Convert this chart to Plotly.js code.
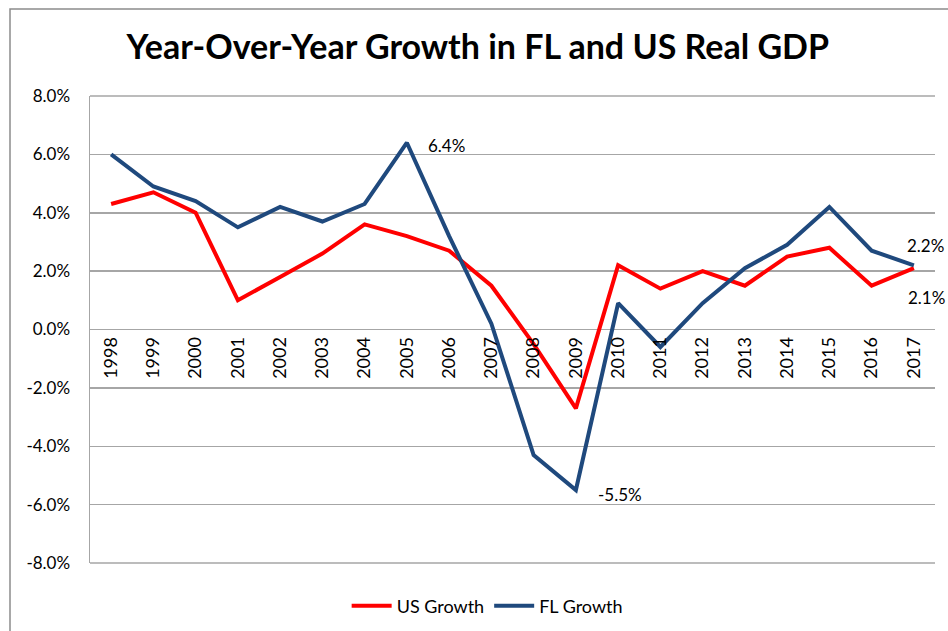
<!DOCTYPE html>
<html>
<head>
<meta charset="utf-8">
<script src="https://cdn.plot.ly/plotly-3.0.1.min.js"></script>
<style>html,body{margin:0;padding:0;background:#fff;}#chart{width:948px;height:631px;}</style>
</head>
<body>
<div id="chart"></div>
<script>
const years = ['1998','1999','2000','2001','2002','2003','2004','2005','2006','2007','2008','2009','2010','2011','2012','2013','2014','2015','2016','2017'];
const usGrowth = [4.3, 4.7, 4.0, 1.0, 1.8, 2.6, 3.6, 3.2, 2.7, 1.5, -0.5, -2.7, 2.2, 1.4, 2.0, 1.5, 2.5, 2.8, 1.5, 2.1];
const flGrowth = [6.0, 4.9, 4.4, 3.5, 4.2, 3.7, 4.3, 6.4, 3.2, 0.2, -4.3, -5.5, 0.9, -0.6, 0.9, 2.1, 2.9, 4.2, 2.7, 2.2];
const yTicks = [-8, -6, -4, -2, 0, 2, 4, 6, 8];

const FONT = 'Lato, "Open Sans", "Liberation Sans", sans-serif';
const fmt = v => v.toFixed(1) + '%';

const traces = [
  {x: years, y: usGrowth, name: 'US Growth', type: 'scatter', mode: 'lines',
   line: {color: '#ff0000', width: 4}},
  {x: years, y: flGrowth, name: 'FL Growth', type: 'scatter', mode: 'lines',
   line: {color: '#1f497d', width: 4}}
];

const i05 = years.indexOf('2005'), i09 = years.indexOf('2009'), i17 = years.indexOf('2017');
const annFont = {family: FONT, size: 17, color: '#000'};
function label(i, v, dx, dy) {
  return {xref: 'x', yref: 'y', x: i, y: v, text: fmt(v), showarrow: false,
          xanchor: 'center', yanchor: 'middle', xshift: dx, yshift: dy, font: annFont};
}
const annotations = [
  label(i05, flGrowth[i05], 40, -3),
  label(i09, flGrowth[i09], 44, -4),
  label(i17, flGrowth[i17], 12, 20),
  label(i17, usGrowth[i17], 13, -29)
];

const layout = {
  width: 948, height: 631,
  margin: {l: 90, r: 13, t: 96, b: 68, pad: 0, autoexpand: false},
  paper_bgcolor: '#fff', plot_bgcolor: '#fff',
  font: {family: FONT, size: 16, color: '#000'},
  title: {text: 'Year-Over-Year Growth in FL and US Real GDP',
          font: {family: FONT, size: 34, color: '#000', weight: 'bold'},
          x: 0.504, xref: 'container', xanchor: 'center',
          y: 0.925, yref: 'container', yanchor: 'middle', automargin: false},
  xaxis: {type: 'category', range: [-0.5, years.length - 0.5],
          anchor: 'free', position: 0.5, tickangle: -90,
          showgrid: false, showline: false, zeroline: false, ticks: '',
          ticklabelstandoff: 3, automargin: false,
          tickfont: {family: FONT, size: 18, color: '#000'}, fixedrange: true},
  yaxis: {range: [-8, 8], tickvals: yTicks, ticktext: yTicks.map(fmt),
          showgrid: true, gridcolor: '#a6a6a6', gridwidth: 1.5,
          zeroline: false, showline: true, linecolor: '#a6a6a6', linewidth: 1.5,
          ticks: '', ticklabelstandoff: 15, automargin: false,
          tickfont: {family: FONT, size: 17, color: '#000'}, fixedrange: true},
  showlegend: true,
  legend: {orientation: 'h', x: 0.47, xanchor: 'center', y: -0.092, yanchor: 'middle',
           font: {family: FONT, size: 18, color: '#000'}, itemwidth: 40, tracegroupgap: 0},
  annotations: annotations,
  shapes: [
    {type: 'rect', xref: 'paper', yref: 'paper',
     x0: -80/845, x1: 2, y0: -2, y1: (563 - 9) / 467,
     line: {color: '#8c8c8c', width: 1.5}, fillcolor: 'rgba(0,0,0,0)', layer: 'below'},
    {type: 'line', xref: 'paper', yref: 'paper', x0: 0, x1: 1, y0: 1, y1: 1,
     line: {color: '#a6a6a6', width: 1.5}, layer: 'below'},
    {type: 'line', xref: 'paper', yref: 'paper', x0: 0, x1: 1, y0: 0, y1: 0,
     line: {color: '#a6a6a6', width: 1.5}, layer: 'below'}
  ]
};

Plotly.newPlot('chart', traces, layout, {displayModeBar: false, staticPlot: true});
</script>
</body>
</html>
